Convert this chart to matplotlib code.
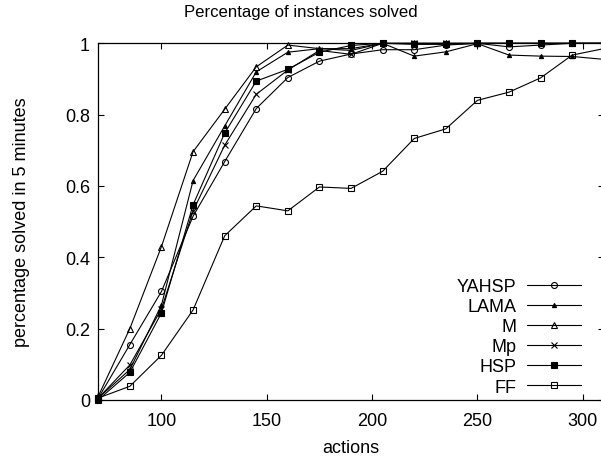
import matplotlib
matplotlib.use("Agg")
import matplotlib.pyplot as plt

plt.rcParams['font.family'] = ['Liberation Sans', 'DejaVu Sans']

actions = [70, 85, 100, 115, 130, 145, 160, 175, 190, 205, 220, 235, 250, 265, 280, 295, 310]

yahsp = [0.005, 0.155, 0.304, 0.515, 0.668, 0.817, 0.904, 0.950, 0.970, 0.982, 0.982, 0.995, 1.0, 0.99, 0.995, 1.0, 1.0]
lama = [0.005, 0.085, 0.266, 0.615, 0.768, 0.920, 0.975, 0.985, 0.985, 1.0, 0.964, 0.976, 0.999, 0.967, 0.964, 0.963, 0.955]
m = [0.01, 0.20, 0.43, 0.696, 0.815, 0.934, 0.995, 0.985, 0.98, 1.0, 1.0, 1.0, 1.0, 1.0, 1.0, 1.0, 1.0]
mp = [0.005, 0.098, 0.255, 0.53, 0.714, 0.857, 0.925, 0.98, 0.969, 1.0, 1.0, 1.0, 1.0, 1.0, 1.0, 1.0, 1.0]
hsp = [0.0, 0.077, 0.244, 0.547, 0.748, 0.894, 0.927, 0.975, 0.994, 1.0, 0.997, 0.997, 1.0, 1.0, 1.0, 1.0, 1.0]
ff = [0.005, 0.038, 0.125, 0.252, 0.46, 0.544, 0.530, 0.597, 0.593, 0.641, 0.733, 0.760, 0.840, 0.863, 0.903, 0.967, 0.985]

series_names = ['YAHSP', 'LAMA', 'M', 'Mp', 'HSP', 'FF']
x_ticks = [100, 150, 200, 250, 300]
y_ticks = [0, 0.2, 0.4, 0.6, 0.8, 1.0]
y_tick_labels = ['0', '0.2', '0.4', '0.6', '0.8', '1']

fig = plt.figure(figsize=(6.01, 4.60), dpi=100)
ax = fig.add_axes([98.3 / 601, 59.2 / 460, 505.5 / 601, 356.5 / 460])

styles = [
    dict(marker='o', markersize=4.3, markerfacecolor='none'),
    dict(marker='^', markersize=3.0, markerfacecolor='black'),
    dict(marker='^', markersize=5.0, markerfacecolor='none'),
    dict(marker='x', markersize=3.8, markerfacecolor='none'),
    dict(marker='s', markersize=4.0, markerfacecolor='black'),
    dict(marker='s', markersize=4.6, markerfacecolor='none'),
]
data = [yahsp, lama, m, mp, hsp, ff]
for name, vals, st in zip(series_names, data, styles):
    ax.plot(actions, vals, color='black', linewidth=0.8, markeredgecolor='black',
            markeredgewidth=0.8, label=name, clip_on=False, **st)

ax.set_xlim(70, 310)
ax.set_ylim(0, 1)
ax.set_xticks(x_ticks)
ax.set_yticks(y_ticks)
ax.set_yticklabels(y_tick_labels)
ax.tick_params(direction='in', length=4, width=0.8, top=True, right=True,
               labelsize=13, colors='black')
ax.tick_params(axis='x', pad=9)
ax.tick_params(axis='y', pad=6)
for s in ax.spines.values():
    s.set_linewidth(0.9)
    s.set_color('black')

fig.text(0.5, 1 - 12 / 460, 'Percentage of instances solved', fontsize=12.1,
         ha='center', va='center')
ax.set_xlabel('actions', fontsize=13, labelpad=7)
ax.set_ylabel('percentage solved in 5 minutes', fontsize=13, labelpad=25)

leg = ax.legend(loc='lower right', bbox_to_anchor=(0.955, 0.012), frameon=False,
                markerfirst=False, fontsize=13, handlelength=3.0,
                handletextpad=0.6, labelspacing=0.17, borderpad=0, borderaxespad=0)

fig.savefig('out.png', dpi=100)
